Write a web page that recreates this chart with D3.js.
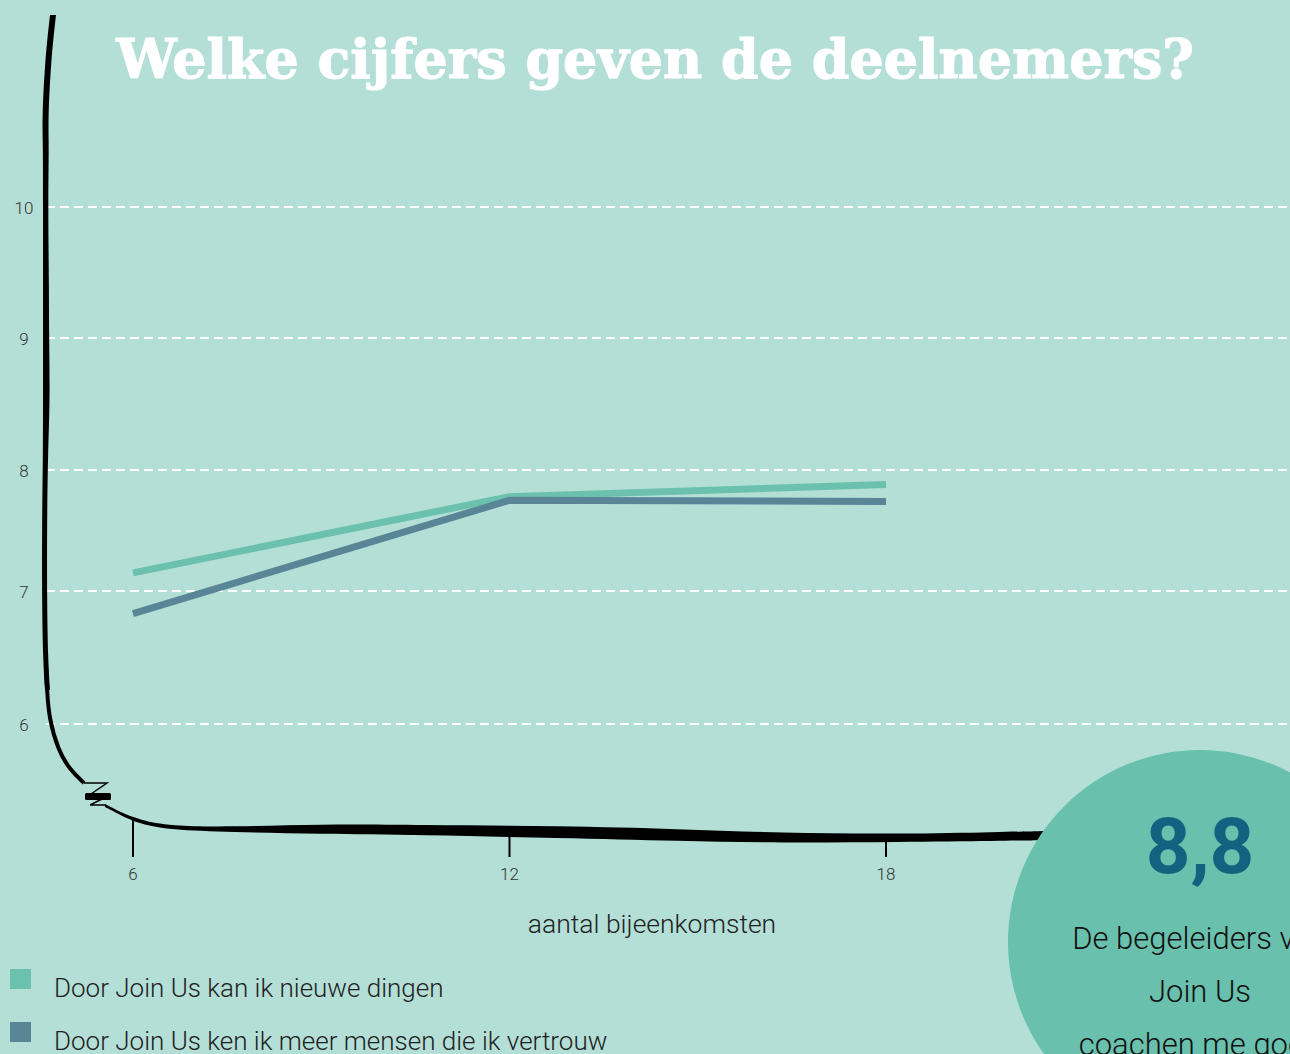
<!DOCTYPE html>
<html>
<head>
<meta charset="utf-8">
<script src="https://cdn.jsdelivr.net/npm/d3@7"></script>
<style>
  html, body { margin: 0; padding: 0; background: #b3dfd6; overflow: hidden; }
  svg { display: block; }
</style>
</head>
<body>
<script>
var width = 1290;
var height = 1054;

// data
var bijeenkomsten = [6, 12, 18];
var nieuweDingen = [7.15, 7.78, 7.88];
var vertrouwen = [6.83, 7.75, 7.74];
var yTicks = [6, 7, 8, 9, 10];
var seriesNames = ["Door Join Us kan ik nieuwe dingen", "Door Join Us ken ik meer mensen die ik vertrouw"];
var seriesColors = ["#6bc1ae", "#5a8597"];
var highlightValue = "8,8";
var highlightText = ["De begeleiders van", "Join Us", "coachen me goed"];

var svg = d3.select("body")
  .append("svg")
  .attr("width", width)
  .attr("height", height);

svg.append("rect")
  .attr("width", width)
  .attr("height", height)
  .attr("fill", "#b3dfd6");

var x = d3.scaleLinear()
  .domain([6, 18])
  .range([133, 886]);

// the grid in the original is not quite even
var y = d3.scaleLinear()
  .domain(yTicks)
  .range([724, 591, 470, 338, 207]);

// title
var title = svg.append("text")
  .attr("x", 655)
  .attr("y", 78)
  .attr("text-anchor", "middle")
  .attr("fill", "#ffffff")
  .attr("stroke", "#ffffff")
  .attr("stroke-width", 1.2)
  .style("font-family", "'DejaVu Serif', serif")
  .style("font-weight", "bold")
  .style("font-size", "60px")
  .text("Welke cijfers geven de deelnemers?");
var tw = title.node().getComputedTextLength();
title.style("font-size", (60 * 1078 / tw) + "px");

// gridlines
svg.append("g")
  .selectAll("line")
  .data(yTicks)
  .enter()
  .append("line")
  .attr("x1", 46)
  .attr("x2", width)
  .attr("y1", d => y(d))
  .attr("y2", d => y(d))
  .attr("stroke", "#ffffff")
  .attr("stroke-width", 2)
  .attr("stroke-dasharray", "9,5");

// y labels
svg.append("g")
  .selectAll("text")
  .data(yTicks)
  .enter()
  .append("text")
  .attr("x", 24)
  .attr("y", d => y(d) + 7)
  .attr("text-anchor", "middle")
  .attr("fill", "#333")
  .style("font-family", "Roboto, sans-serif")
  .style("font-weight", 300)
  .style("font-size", "17px")
  .text(d => d);

// x ticks (start where the hand drawn axis sits)
var tickTop = [818, 830, 837];
svg.append("g")
  .selectAll("line")
  .data(bijeenkomsten)
  .enter()
  .append("line")
  .attr("x1", d => x(d))
  .attr("x2", d => x(d))
  .attr("y1", (d, i) => tickTop[i])
  .attr("y2", 857)
  .attr("stroke", "#000")
  .attr("stroke-width", 2);

svg.append("g")
  .selectAll("text")
  .data(bijeenkomsten)
  .enter()
  .append("text")
  .attr("x", d => x(d))
  .attr("y", 880)
  .attr("text-anchor", "middle")
  .attr("fill", "#333")
  .style("font-family", "Roboto, sans-serif")
  .style("font-weight", 300)
  .style("font-size", "17px")
  .text(d => d);

// hand drawn axes
var vArea = d3.area()
  .curve(d3.curveBasis)
  .y(d => d[0]).x0(d => d[1]).x1(d => d[2]);
svg.append("path")
  .attr("d", vArea([
    [15, 50, 56], [60, 45, 51], [120, 42, 48], [145, 43, 49], [200, 43, 48],
    [290, 43, 49], [330, 43, 49], [400, 43, 50], [450, 43, 48], [520, 42, 47],
    [600, 42, 47], [660, 43, 48], [690, 45, 50]
  ]))
  .attr("fill", "#000");

svg.append("path")
  .attr("d", d3.line().curve(d3.curveBasis)([[46, 665], [47, 690], [49, 718], [58, 750], [70, 770], [84, 783]]))
  .attr("fill", "none")
  .attr("stroke", "#000")
  .attr("stroke-width", 4);

// break mark
svg.append("path")
  .attr("d", "M84,783 L107,783 L88,796 M90,805 L106,797 M90,805 L106,805")
  .attr("fill", "none")
  .attr("stroke", "#000")
  .attr("stroke-width", 1.5);
svg.append("rect")
  .attr("x", 85).attr("y", 793)
  .attr("width", 26).attr("height", 7)
  .attr("rx", 1.5)
  .attr("fill", "#000");

var hArea = d3.area()
  .curve(d3.curveBasis)
  .x(d => d[0]).y0(d => d[1]).y1(d => d[2]);
svg.append("path")
  .attr("d", hArea([
    [105, 804, 807], [120, 812, 815], [140, 820, 824], [170, 826, 830], [230, 827, 832],
    [320, 824, 834], [420, 825, 835], [560, 826, 838], [680, 829, 841], [780, 833, 843],
    [900, 834, 842], [1000, 832, 841], [1045, 831, 840]
  ]))
  .attr("fill", "#000");

// x label
svg.append("text")
  .attr("x", 652)
  .attr("y", 933)
  .attr("text-anchor", "middle")
  .attr("fill", "#222")
  .style("font-family", "Roboto, sans-serif")
  .style("font-weight", 300)
  .style("font-size", "26.5px")
  .text("aantal bijeenkomsten");

// lines
var line = d3.line()
  .x(d => x(d[0]))
  .y(d => y(d[1]));

var series = [
  bijeenkomsten.map((b, i) => [b, nieuweDingen[i]]),
  bijeenkomsten.map((b, i) => [b, vertrouwen[i]])
];

svg.append("g")
  .selectAll("path")
  .data(series)
  .enter()
  .append("path")
  .attr("d", line)
  .attr("fill", "none")
  .attr("stroke", (d, i) => seriesColors[i])
  .attr("stroke-width", 7);

// highlight circle
svg.append("circle")
  .attr("cx", 1200)
  .attr("cy", 942)
  .attr("r", 192)
  .attr("fill", "#68c0ad");

svg.append("text")
  .attr("x", 1200)
  .attr("y", 873)
  .attr("text-anchor", "middle")
  .attr("fill", "#12637f")
  .style("font-family", "Roboto, sans-serif")
  .style("font-weight", "bold")
  .style("font-size", "78px")
  .text(highlightValue);

svg.append("g")
  .selectAll("text")
  .data(highlightText)
  .enter()
  .append("text")
  .attr("x", 1200)
  .attr("y", (d, i) => 949 + i * 53)
  .attr("text-anchor", "middle")
  .attr("fill", "#111")
  .style("font-family", "Roboto, sans-serif")
  .style("font-weight", 300)
  .style("font-size", "31px")
  .text(d => d);

// legend
var legend = svg.append("g")
  .selectAll("g")
  .data(seriesNames)
  .enter()
  .append("g")
  .attr("transform", (d, i) => "translate(0," + (i * 53) + ")");

legend.append("rect")
  .attr("x", 10)
  .attr("y", 969)
  .attr("width", 21)
  .attr("height", 20)
  .attr("fill", (d, i) => seriesColors[i]);

legend.append("text")
  .attr("x", 54)
  .attr("y", 997)
  .attr("fill", "#222")
  .style("font-family", "Roboto, sans-serif")
  .style("font-weight", 300)
  .style("font-size", "26px")
  .text(d => d);
</script>
</body>
</html>
